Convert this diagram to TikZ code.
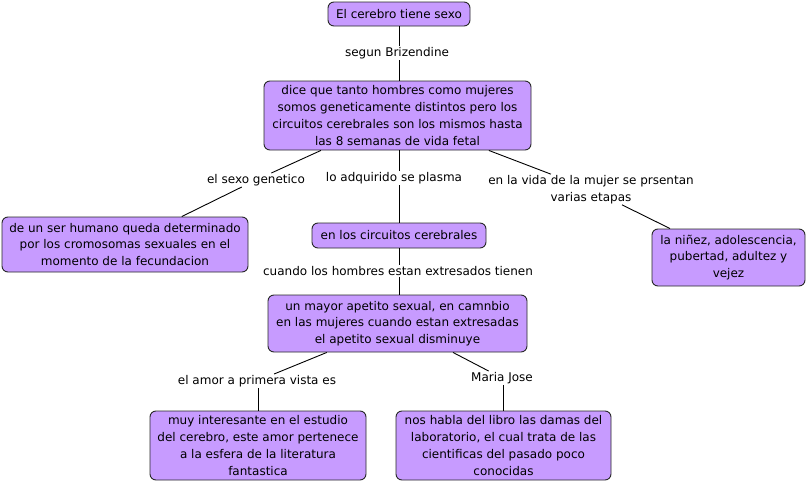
\documentclass[tikz,border=0pt]{standalone}
\usepackage{fontspec}
\setmainfont{DejaVu Sans}
\definecolor{boxfill}{RGB}{199,155,255}
\definecolor{boxline}{RGB}{40,40,40}
\begin{document}
\begin{tikzpicture}[x=1pt,y=-1pt,
  every node/.style={font=\fontsize{12}{16.7}\selectfont, align=center},
  concept/.style={draw=boxline, fill=boxfill, rounded corners=6pt, line width=0.9pt, inner sep=0pt},
  lbl/.style={inner xsep=2pt, inner ysep=1pt},
  conn/.style={draw=black, line width=0.9pt}]
\useasboundingbox (0,0) rectangle (807,482);
\node[concept, minimum width=142, minimum height=24] (top) at (399,14) {El cerebro tiene sexo};
\node[concept, minimum width=267, minimum height=69] (dice) at (397.5,115.5) {dice que tanto hombres como mujeres\\somos geneticamente distintos pero los\\circuitos cerebrales son los mismos hasta\\las 8 semanas de vida fetal};
\node[concept, minimum width=246, minimum height=55] (ser) at (125,244.5) {de un ser humano queda determinado\\por los cromosomas sexuales en el\\momento de la fecundacion};
\node[concept, minimum width=174, minimum height=25] (circ) at (399,235.5) {en los circuitos cerebrales};
\node[concept, minimum width=153, minimum height=57] (nin) at (728.5,257.5) {la niñez, adolescencia,\\pubertad, adultez y\\vejez};
\node[concept, minimum width=259, minimum height=57] (mayor) at (397.5,323.5) {un mayor apetito sexual, en camnbio\\en las mujeres cuando estan extresadas\\el apetito sexual disminuye};
\node[concept, minimum width=216, minimum height=69] (muy) at (258,445.5) {muy interesante en el estudio\\del cerebro, este amor pertenece\\a la esfera de la literatura\\fantastica};
\node[concept, minimum width=215, minimum height=69] (nos) at (503.5,445.5) {nos habla del libro las damas del\\laboratorio, el cual trata de las\\cientificas del pasado poco\\conocidas};

\node[lbl] (l1) at (397,53) {segun Brizendine};
\node[lbl] (l2) at (256,180) {el sexo genetico};
\node[lbl] (l3) at (394,178) {lo adquirido se plasma};
\node[lbl] (l4) at (591,189.5) {en la vida de la mujer se prsentan\\varias etapas};
\node[lbl] (l5) at (398,271) {cuando los hombres estan extresados tienen};
\node[lbl] (l6) at (257,381) {el amor a primera vista es};
\node[lbl] (l7) at (502,378) {Maria Jose};

\coordinate (vx) at (399,0);
\draw[conn] (top.south -| vx) -- (l1.north -| vx);
\draw[conn] (l1.south -| vx) -- (dice.north -| vx);
\draw[conn] (dice) -- (l2);
\draw[conn] (l2) -- (ser);
\draw[conn] (dice.south -| vx) -- (l3.north -| vx);
\draw[conn] (l3.south -| vx) -- (circ.north -| vx);
\draw[conn] (dice) -- (l4);
\draw[conn] (l4) -- (nin);
\draw[conn] (circ.south -| vx) -- (l5.north -| vx);
\draw[conn] (l5.south -| vx) -- (mayor.north -| vx);
\draw[conn] (mayor) -- (l6);
\draw[conn] (l6.south -| muy) -- (muy.north);
\draw[conn] (mayor) -- (l7);
\draw[conn] (l7.south -| nos) -- (nos.north);
\end{tikzpicture}
\end{document}
